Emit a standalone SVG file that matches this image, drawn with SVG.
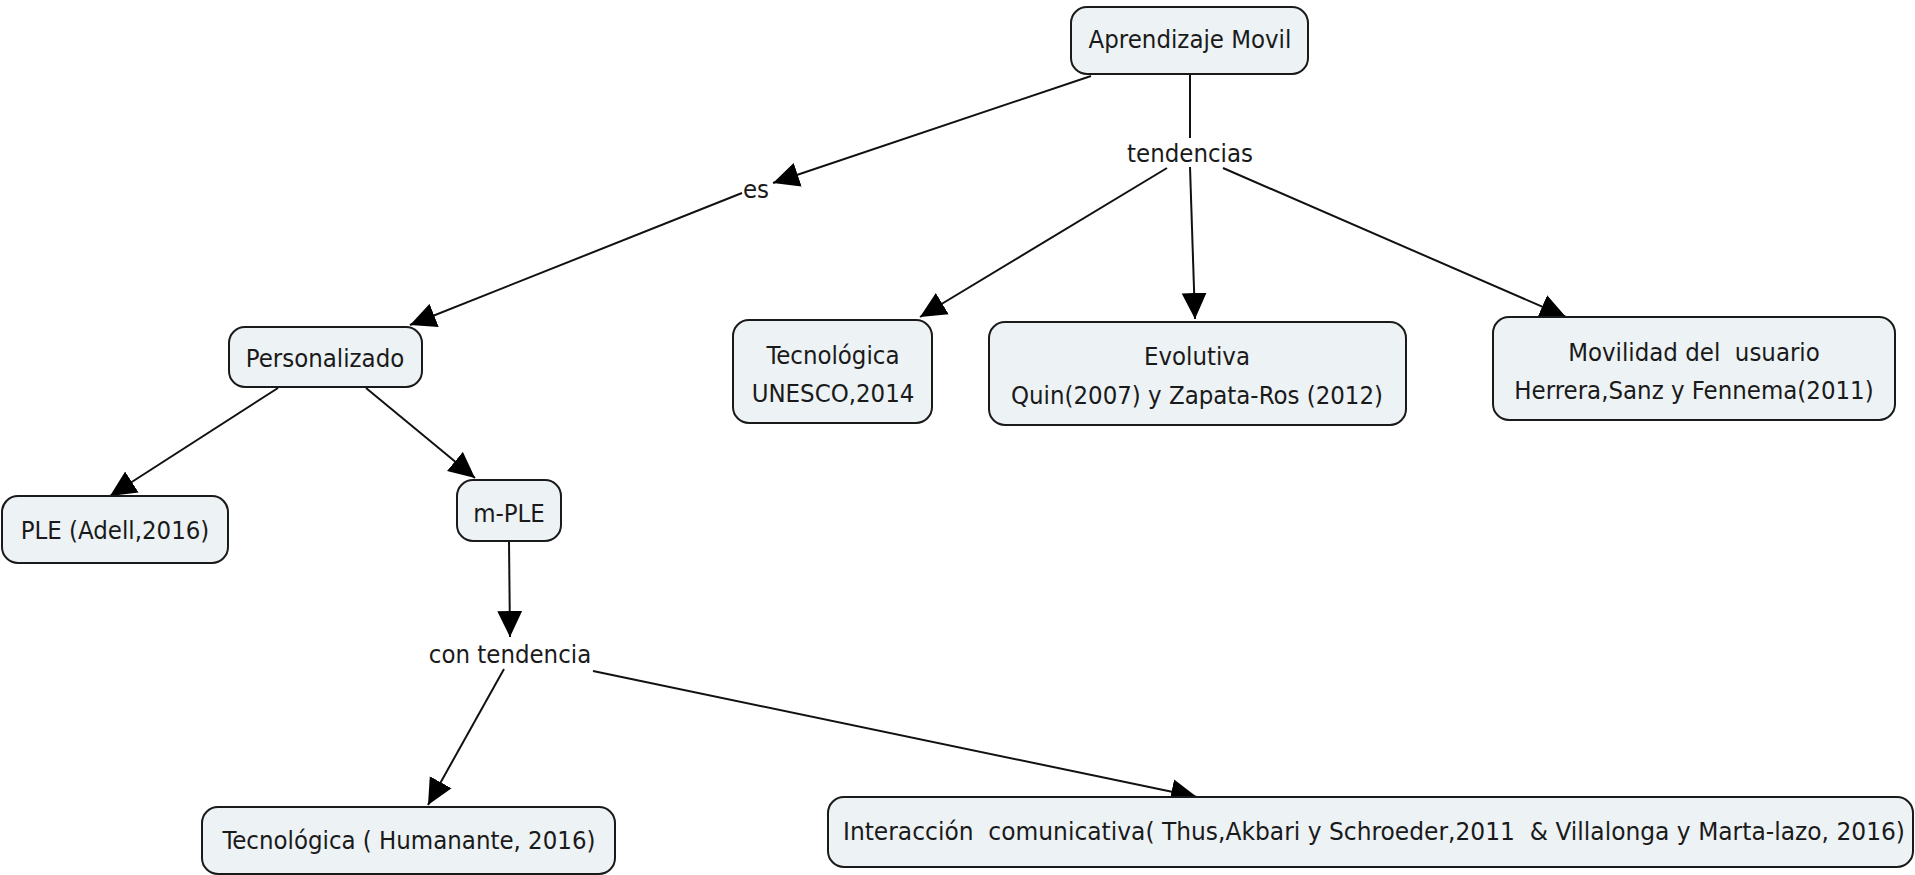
<svg xmlns="http://www.w3.org/2000/svg" width="1915" height="875" viewBox="0 0 1915 875">
<style>
.node rect{fill:#edf2f5;stroke:#1a1a1a;stroke-width:2}
text{font-family:"DejaVu Sans Condensed","DejaVu Sans",sans-serif;font-size:25.5px;fill:#1a1a1a;text-anchor:middle;white-space:pre}
.conn line{stroke:#111;stroke-width:2}
.arr{marker-end:url(#ah)}
</style>
<defs>
<marker id="ah" markerUnits="userSpaceOnUse" markerWidth="26" markerHeight="26" refX="23" refY="11" orient="auto" viewBox="0 0 23 22">
<path d="M0,0 L23,11 L0,22 Z" fill="#000"/>
</marker>
</defs>
<rect width="1915" height="875" fill="#fff"/>
<g class="conn">
<line x1="1091" y1="76" x2="773" y2="183" class="arr"/>
<line x1="742" y1="193" x2="410" y2="325" class="arr"/>
<line x1="1190" y1="75" x2="1190" y2="138"/>
<line x1="1167" y1="168" x2="920" y2="317" class="arr"/>
<line x1="1190" y1="167" x2="1195" y2="319" class="arr"/>
<line x1="1223" y1="168" x2="1566" y2="317" class="arr"/>
<line x1="278" y1="388" x2="110" y2="496" class="arr"/>
<line x1="366" y1="388" x2="475" y2="478" class="arr"/>
<line x1="509" y1="542" x2="510" y2="637" class="arr"/>
<line x1="504" y1="669" x2="428" y2="805" class="arr"/>
<line x1="593" y1="671" x2="1197" y2="797" class="arr"/>
</g>
<g id="lbl-es"><text x="756" y="198">es</text></g>
<g id="lbl-tendencias"><text x="1190" y="162">tendencias</text></g>
<g id="lbl-con-tendencia"><text x="510" y="663">con tendencia</text></g>
<g id="n-aprendizaje" class="node"><rect x="1071" y="7" width="237" height="67" rx="16"/><text x="1190" y="48">Aprendizaje Movil</text></g>
<g id="n-personalizado" class="node"><rect x="229" y="327" width="193" height="60" rx="16"/><text x="325" y="367">Personalizado</text></g>
<g id="n-ple" class="node"><rect x="2" y="496" width="226" height="67" rx="16"/><text x="115" y="539">PLE (Adell,2016)</text></g>
<g id="n-mple" class="node"><rect x="457" y="480" width="104" height="61" rx="16"/><text x="509" y="522">m-PLE</text></g>
<g id="n-tec-unesco" class="node"><rect x="733" y="320" width="199" height="103" rx="16"/><text x="833" y="364">Tecnológica</text><text x="833" y="402">UNESCO,2014</text></g>
<g id="n-evolutiva" class="node"><rect x="989" y="322" width="417" height="103" rx="16"/><text x="1197" y="365">Evolutiva</text><text x="1197" y="404">Quin(2007) y Zapata-Ros (2012)</text></g>
<g id="n-movilidad" class="node"><rect x="1493" y="317" width="402" height="103" rx="16"/><text x="1694" y="361">Movilidad del  usuario</text><text x="1694" y="399">Herrera,Sanz y Fennema(2011)</text></g>
<g id="n-tec-humanante" class="node"><rect x="202" y="807" width="413" height="67" rx="16"/><text x="409" y="849">Tecnológica ( Humanante, 2016)</text></g>
<g id="n-interaccion" class="node"><rect x="828" y="797" width="1085" height="70" rx="16"/><text x="843" y="840" textLength="1062" lengthAdjust="spacingAndGlyphs" style="text-anchor:start">Interacción  comunicativa( Thus,Akbari y Schroeder,2011  &amp; Villalonga y Marta-lazo, 2016)</text></g>
</svg>
